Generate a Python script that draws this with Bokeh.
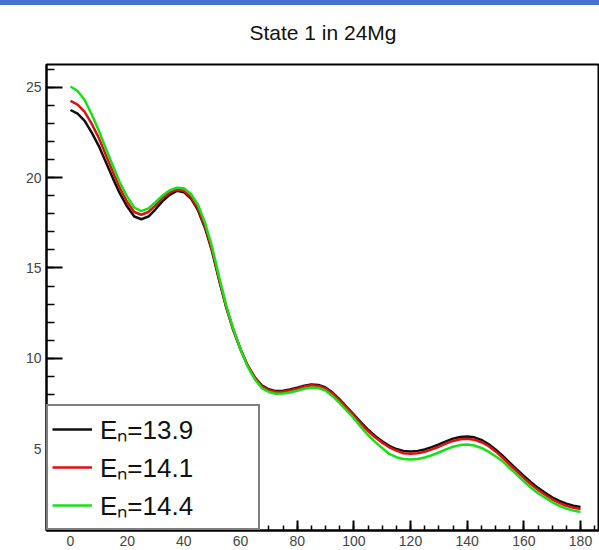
from bokeh.plotting import figure
from bokeh.models import Range1d, SingleIntervalTicker, Legend, LegendItem, Div, Title
from bokeh.layouts import column
from bokeh.embed import file_html
from bokeh.resources import INLINE

# ---- data ----
angle = [0, 2.5, 5, 7.5, 10, 12.5, 15, 17.5, 20, 22.5, 25, 27.5, 30, 32.5, 35, 37.5,
         40, 42.5, 45, 47.5, 50, 52.5, 55, 57.5, 60, 62.5, 65, 67.5, 70, 72.5, 75, 77.5,
         80, 82.5, 85, 87.5, 90, 92.5, 95, 97.5, 100, 102.5, 105, 107.5, 110, 112.5,
         115, 117.5, 120, 122.5, 125, 127.5, 130, 132.5, 135, 137.5, 140, 142.5, 145,
         147.5, 150, 152.5, 155, 157.5, 160, 162.5, 165, 167.5, 170, 172.5, 175, 177.5,
         180]
en_139 = [23.75, 23.55, 23.15, 22.5, 21.75, 20.85, 19.95, 19.1, 18.4, 17.85, 17.7, 17.85,
          18.25, 18.7, 19.05, 19.27, 19.2, 18.85, 18.2, 17.2, 15.9, 14.3, 12.8, 11.55,
          10.5, 9.6, 8.95, 8.5, 8.28, 8.18, 8.2, 8.27, 8.37, 8.48, 8.55, 8.52, 8.38, 8.1,
          7.72, 7.3, 6.88, 6.45, 6.05, 5.7, 5.4, 5.15, 4.97, 4.87, 4.84, 4.87, 4.95, 5.08,
          5.23, 5.4, 5.55, 5.64, 5.67, 5.62, 5.48, 5.25, 4.95, 4.6, 4.22, 3.85, 3.48,
          3.13, 2.82, 2.55, 2.3, 2.1, 1.94, 1.83, 1.76]
en_141 = [24.25, 24.05, 23.65, 22.98, 22.2, 21.25, 20.3, 19.4, 18.65, 18.1, 17.95, 18.1,
          18.47, 18.88, 19.17, 19.35, 19.28, 18.93, 18.3, 17.3, 15.98, 14.35, 12.8, 11.55,
          10.5, 9.6, 8.95, 8.45, 8.23, 8.13, 8.15, 8.22, 8.32, 8.43, 8.5, 8.47, 8.33, 8.05,
          7.67, 7.25, 6.83, 6.37, 5.97, 5.62, 5.32, 5.07, 4.89, 4.74, 4.71, 4.74, 4.82,
          4.95, 5.1, 5.27, 5.42, 5.51, 5.54, 5.49, 5.35, 5.14, 4.84, 4.49, 4.11, 3.74,
          3.37, 3.02, 2.71, 2.44, 2.19, 1.99, 1.83, 1.72, 1.65]
en_144 = [25.05, 24.8, 24.3, 23.5, 22.6, 21.6, 20.65, 19.7, 18.95, 18.35, 18.15, 18.3,
          18.65, 19.02, 19.3, 19.45, 19.42, 19.1, 18.5, 17.5, 16.15, 14.48, 12.9, 11.6,
          10.5, 9.55, 8.85, 8.35, 8.13, 8.03, 8.05, 8.1, 8.2, 8.31, 8.38, 8.35, 8.21, 7.9,
          7.52, 7.1, 6.68, 6.2, 5.75, 5.37, 5.03, 4.7, 4.52, 4.42, 4.39, 4.42, 4.5, 4.63,
          4.78, 4.95, 5.1, 5.19, 5.22, 5.17, 5.03, 4.83, 4.57, 4.3, 3.92, 3.55, 3.18,
          2.83, 2.52, 2.28, 2.03, 1.83, 1.67, 1.56, 1.49]
labels = ["E\u2099=13.9", "E\u2099=14.1", "E\u2099=14.4"]
colors = ["#111111", "#e01010", "#18e018"]
title_text = "State 1 in 24Mg"

FONT = "'Liberation Sans', Arial, sans-serif"

p = figure(width=599, height=545, output_backend="svg", toolbar_location=None,
           x_range=Range1d(-8.47, 186.7), y_range=Range1d(0.46, 26.27),
           min_border_left=46, min_border_right=0, min_border_top=0, min_border_bottom=20)

# small spacer between the title and the frame
p.add_layout(Title(text=" ", text_font_size="2px", standoff=3), "above")

p.title.text = title_text
p.title.align = "center"
p.title.text_font = FONT
p.title.text_font_size = "21px"
p.title.text_font_style = "normal"
p.title.text_color = "#111111"
p.title.standoff = 27

p.xgrid.visible = False
p.ygrid.visible = False
p.outline_line_color = "black"
p.outline_line_width = 2
p.background_fill_color = "white"
p.border_fill_color = "white"

p.xaxis.ticker = SingleIntervalTicker(interval=20, num_minor_ticks=4)
p.yaxis.ticker = SingleIntervalTicker(interval=5, num_minor_ticks=5)
for ax, maj, mnr in ((p.xaxis, 10, 5), (p.yaxis, 16, 8)):
    ax.axis_line_width = 2
    ax.axis_line_color = "black"
    ax.major_tick_in = maj
    ax.major_tick_out = 0
    ax.minor_tick_in = mnr
    ax.minor_tick_out = 0
    ax.major_tick_line_width = 2
    ax.minor_tick_line_width = 1.5
    ax.major_label_text_font = FONT
    ax.major_label_text_font_size = "14px"
    ax.major_label_text_color = "#444444"
    ax.major_label_standoff = 5

series = [en_139, en_141, en_144]
renderers = []
for ys, c in zip(series, colors):
    r = p.line(angle, ys, line_color=c, line_width=2.5)
    renderers.append(r)

legend = Legend(items=[LegendItem(label=l, renderers=[r]) for l, r in zip(labels, renderers)],
                location="bottom_left", margin=0, padding=4, spacing=0,
                label_height=38, glyph_height=38, glyph_width=40, label_standoff=8,
                label_width=154, border_line_color="black", border_line_width=2,
                label_text_font=FONT, label_text_font_size="26px",
                label_text_color="#111111", background_fill_alpha=1.0)
p.add_layout(legend)

bar = Div(width=599, height=5, margin=0, styles={"background-color": "#4472C4"})
layout = column(bar, p, spacing=0)

open("out.html", "w").write(file_html(layout, INLINE))
